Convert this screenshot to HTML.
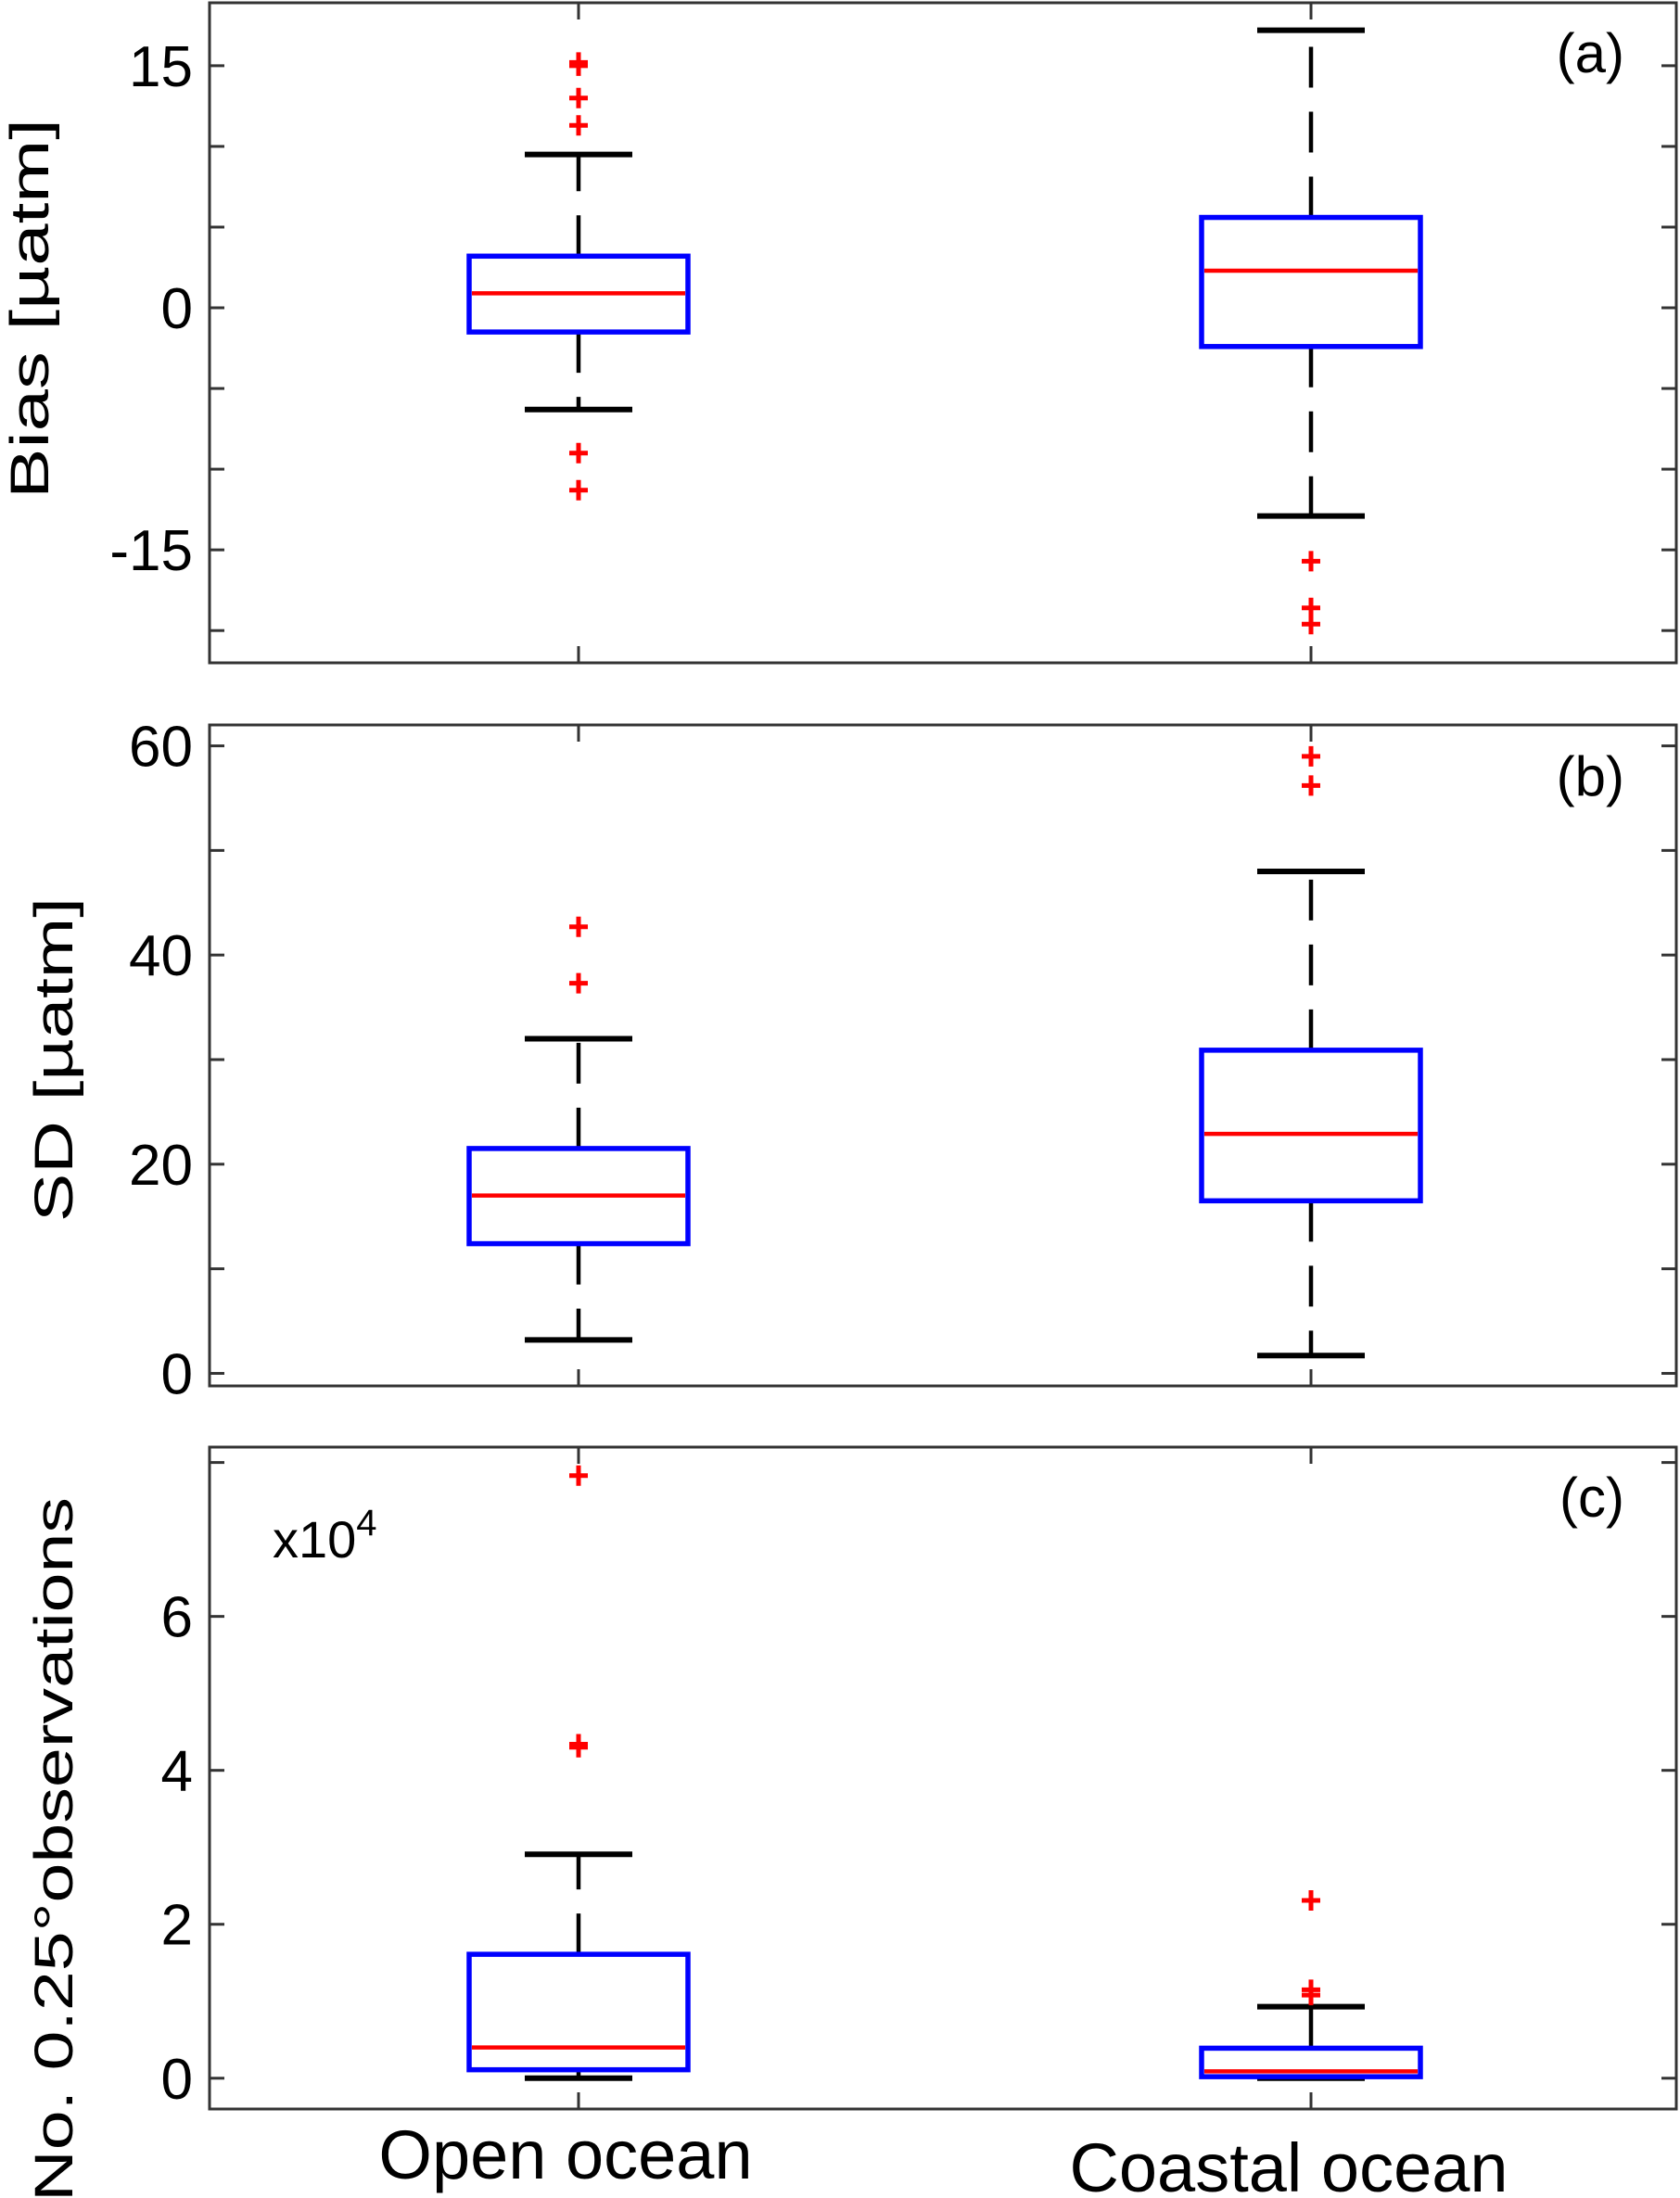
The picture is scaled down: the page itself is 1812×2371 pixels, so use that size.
<!DOCTYPE html>
<html><head><meta charset="utf-8"><style>body{margin:0;background:#fff}svg{display:block}</style></head>
<body>
<svg id="chart" width="1812" height="2371" viewBox="0 0 1812 2371" xmlns="http://www.w3.org/2000/svg" font-family="Liberation Sans, sans-serif"></svg>
<script>
const categories = ["Open ocean", "Coastal ocean"];
// panel a: Bias
const biasStats = [[-6.3, -1.5, 0.9, 3.2, 9.5], [-12.9, -2.4, 2.3, 5.6, 17.2]];
const biasOutliers = [[15, 15.2, 13, 11.3, -9.0, -11.3], [-15.7, -18.6, -19.6]];
const biasTicks = [-20, -15, -10, -5, 0, 5, 10, 15];
const biasLabels = ["-15", "0", "15"];
// panel b: SD
const sdStats = [[3.2, 12.4, 17, 21.5, 32], [1.7, 16.5, 22.9, 30.9, 48]];
const sdOutliers = [[42.7, 37.3], [59, 56.2]];
const sdTicks = [0, 10, 20, 30, 40, 50, 60];
const sdLabels = ["0", "20", "40", "60"];
// panel c: observations (x10^4)
const obsStats = [[0, 0.11, 0.40, 1.61, 2.91], [0, 0.02, 0.09, 0.39, 0.93]];
const obsOutliers = [[7.83, 4.34, 4.30], [2.31, 1.15, 1.08]];
const obsTicks = [0, 2, 4, 6, 8];
const obsLabels = ["0", "2", "4", "6"];

const NS = "http://www.w3.org/2000/svg";
const svg = document.getElementById("chart");
function mk(tag, attrs, parent) {
  const e = document.createElementNS(NS, tag);
  for (const k in attrs) e.setAttribute(k, attrs[k]);
  (parent || svg).appendChild(e);
  return e;
}
const X0 = 226, X1 = 1808;
const xCenters = [624, 1414];
const boxHalf = 118, capHalf = 58;

function panel(name, top, bottom, ymin, ymax, stats, outliers, ticks, labels, plabel, plabelY) {
  const g = mk("g", {});
  
  
  const y = v => bottom - (v - ymin) / (ymax - ymin) * (bottom - top);
  ticks.forEach(t => {
    const yy = y(t);
    mk("line", {x1: X0, x2: X0 + 16, y1: yy, y2: yy, stroke: "#333", "stroke-width": 3}, g);
    mk("line", {x1: X1, x2: X1 - 16, y1: yy, y2: yy, stroke: "#333", "stroke-width": 3}, g);
  });
  labels.forEach(l => {
    const t = mk("text", {x: X0 - 18, y: y(+l) + 22, "text-anchor": "end", "font-size": 62, fill: "#000"}, g);
    t.textContent = l;
    
    
  });
  xCenters.forEach(cx => {
    mk("line", {x1: cx, x2: cx, y1: bottom, y2: bottom - 18, stroke: "#333", "stroke-width": 3}, g);
    mk("line", {x1: cx, x2: cx, y1: top, y2: top + 18, stroke: "#333", "stroke-width": 3}, g);
  });
  stats.forEach((s, i) => {
    const cx = xCenters[i];
    const bg = mk("g", {}, g);
    
    
    mk("line", {x1: cx, x2: cx, y1: y(s[3]), y2: y(s[4]), stroke: "#000", "stroke-width": 4.5, "stroke-dasharray": "44 26"}, bg);
    mk("line", {x1: cx, x2: cx, y1: y(s[1]), y2: y(s[0]), stroke: "#000", "stroke-width": 4.5, "stroke-dasharray": "44 26"}, bg);
    mk("line", {x1: cx - capHalf, x2: cx + capHalf, y1: y(s[4]), y2: y(s[4]), stroke: "#000", "stroke-width": 6}, bg);
    mk("line", {x1: cx - capHalf, x2: cx + capHalf, y1: y(s[0]), y2: y(s[0]), stroke: "#000", "stroke-width": 6}, bg);
    mk("rect", {x: cx - boxHalf, y: y(s[3]), width: 2 * boxHalf, height: y(s[1]) - y(s[3]), fill: "none", stroke: "#0000ff", "stroke-width": 5.5}, bg);
    mk("line", {x1: cx - boxHalf + 3, x2: cx + boxHalf - 3, y1: y(s[2]), y2: y(s[2]), stroke: "#ff0000", "stroke-width": 4.5}, bg);
  });
  outliers.forEach((arr, i) => {
    const cx = xCenters[i];
    arr.forEach(v => {
      const p = mk("path", {d: `M${cx - 10},${y(v)}h20M${cx},${y(v) - 11}v22`, stroke: "#ff0000", "stroke-width": 5}, g);
      
      
    });
  });
  mk("rect", {x: X0, y: top, width: X1 - X0, height: bottom - top, fill: "none", stroke: "#333", "stroke-width": 3}, g);
  const pl = mk("text", {x: 1752, y: plabelY, "text-anchor": "end", "font-size": 60, fill: "#000"}, g);
  pl.textContent = plabel;
  
  
}
panel("bias", 3, 715, -22, 18.9, biasStats, biasOutliers, biasTicks, biasLabels, "(a)", 78);
panel("sd", 782, 1495, -1.2, 62, sdStats, sdOutliers, sdTicks, sdLabels, "(b)", 858);
panel("obs", 1561, 2275, -0.4, 8.2, obsStats, obsOutliers, obsTicks, obsLabels, "(c)", 1636);

function ylab(text, cx, cy, len, nm) {
  const t = mk("text", {x: 0, y: 0, transform: `translate(${cx},${cy}) rotate(-90)`, "text-anchor": "middle", "font-size": 58, fill: "#000", textLength: len, lengthAdjust: "spacingAndGlyphs"});
  t.textContent = text;
  
  
}
ylab("Bias [µatm]", 52, 333, 410, "bias-y-axis-title");
ylab("SD [µatm]", 78, 1143, 350, "sd-y-axis-title");
ylab("No. 0.25°observations", 78, 1995, 760, "obs-y-axis-title");

const ex = mk("text", {x: 294, y: 1680, "font-size": 56, fill: "#000"});
ex.innerHTML = 'x10<tspan dy="-24" font-size="40">4</tspan>';



categories.forEach((c, i) => {
  const t = mk("text", {x: xCenters[i] - 14 - i * 10, y: 2350 + i * 14, "text-anchor": "middle", "font-size": 74, fill: "#000"});
  t.textContent = c;
  
  
});
</script>
</body></html>
